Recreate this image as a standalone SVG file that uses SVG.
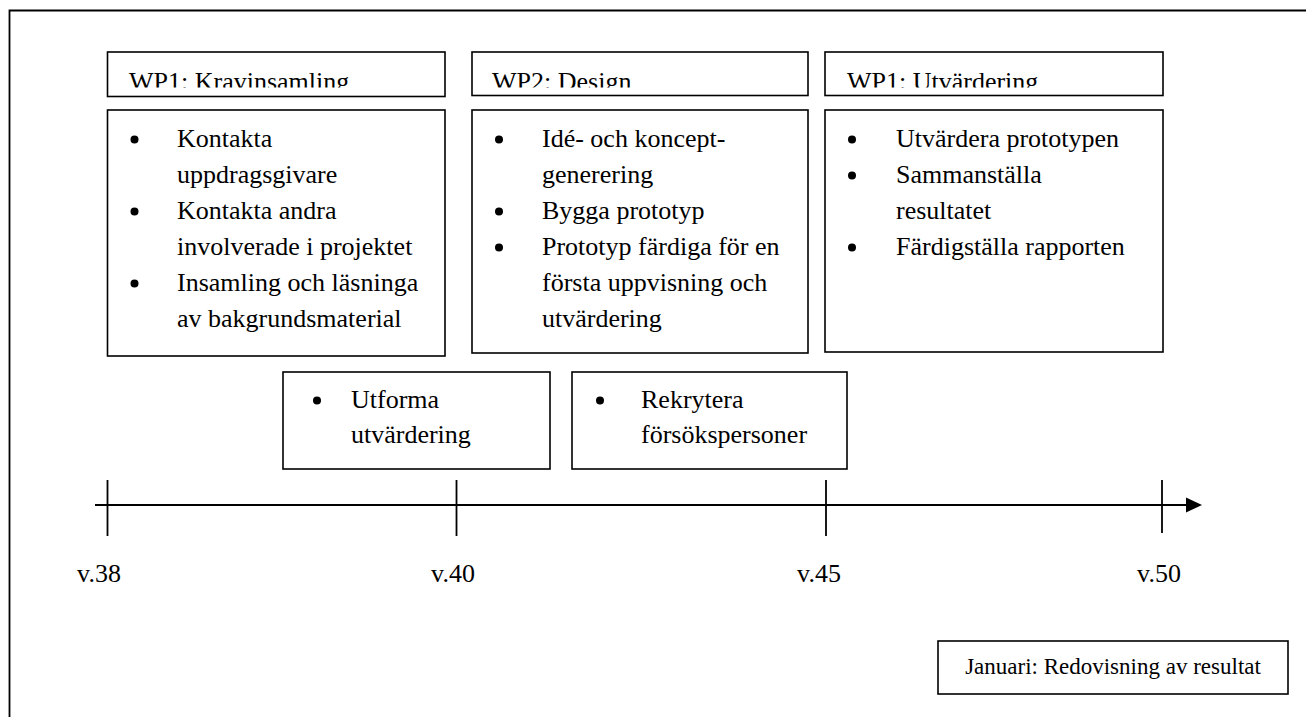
<svg xmlns="http://www.w3.org/2000/svg" width="1306" height="717" viewBox="0 0 1306 717">
<style>
.box{fill:#fff;stroke:#000;stroke-width:1.6}
.t{font-family:'Liberation Serif','Times New Roman',serif;font-size:26px;fill:#000}
.s{font-family:'Liberation Serif','Times New Roman',serif;font-size:23px;fill:#000}
.ln{stroke:#000;stroke-width:1.8;fill:none}
</style>
<defs>
<clipPath id="hc"><rect x="0" y="52" width="1306" height="35.5"/></clipPath>
</defs>
<rect width="1306" height="717" fill="#fff"/>
<path class="ln" d="M9.5,717 V10.5 H1306"/>

<g id="wp1-header">
<rect class="box" x="107.5" y="52" width="337.5" height="44.5"/>
<text class="t" x="129" y="90" clip-path="url(#hc)">WP1: Kravinsamling</text>
</g>
<g id="wp2-header">
<rect class="box" x="472" y="52" width="336" height="43.5"/>
<text class="t" x="492" y="90" clip-path="url(#hc)">WP2: Design</text>
</g>
<g id="wp3-header">
<rect class="box" x="825" y="52" width="338" height="43.5"/>
<text class="t" x="847" y="90" clip-path="url(#hc)">WP1: Utvärdering</text>
</g>

<g id="wp1-tasks">
<rect class="box" x="107.5" y="110" width="337.5" height="246"/>
<circle cx="134.5" cy="139.5" r="4"/>
<circle cx="134.5" cy="211.5" r="4"/>
<circle cx="134.5" cy="283.5" r="4"/>
<text class="t" x="177" y="147">Kontakta</text>
<text class="t" x="177" y="183">uppdragsgivare</text>
<text class="t" x="177" y="219">Kontakta andra</text>
<text class="t" x="177" y="255">involverade i projektet</text>
<text class="t" x="177" y="291">Insamling och läsninga</text>
<text class="t" x="177" y="327">av bakgrundsmaterial</text>
</g>

<g id="wp2-tasks">
<rect class="box" x="472" y="110" width="336" height="243"/>
<circle cx="499" cy="139.5" r="4"/>
<circle cx="499" cy="211.5" r="4"/>
<circle cx="499" cy="247.5" r="4"/>
<text class="t" x="542" y="147">Idé- och koncept-</text>
<text class="t" x="542" y="183">generering</text>
<text class="t" x="542" y="219">Bygga prototyp</text>
<text class="t" x="542" y="255">Prototyp färdiga för en</text>
<text class="t" x="542" y="291">första uppvisning och</text>
<text class="t" x="542" y="327">utvärdering</text>
</g>

<g id="wp3-tasks">
<rect class="box" x="825" y="110" width="338" height="242"/>
<circle cx="852" cy="139.5" r="4"/>
<circle cx="852" cy="175.5" r="4"/>
<circle cx="852" cy="247.5" r="4"/>
<text class="t" x="896" y="147">Utvärdera prototypen</text>
<text class="t" x="896" y="183">Sammanställa</text>
<text class="t" x="896" y="219">resultatet</text>
<text class="t" x="896" y="255">Färdigställa rapporten</text>
</g>

<g id="utforma">
<rect class="box" x="283" y="372" width="267" height="97"/>
<circle cx="317" cy="400.5" r="4"/>
<text class="t" x="351" y="408">Utforma</text>
<text class="t" x="351" y="443">utvärdering</text>
</g>

<g id="rekrytera">
<rect class="box" x="572" y="372" width="275" height="97"/>
<circle cx="600" cy="400.5" r="4"/>
<text class="t" x="641" y="408">Rekrytera</text>
<text class="t" x="641" y="443">försökspersoner</text>
</g>

<g id="connectors">
<line class="ln" x1="95" y1="505" x2="1190" y2="505"/>
<polygon points="1186,497.5 1202,505 1186,512.5" fill="#000"/>
<line class="ln" x1="107.5" y1="480" x2="107.5" y2="536"/>
<line class="ln" x1="456.5" y1="480" x2="456.5" y2="536"/>
<line class="ln" x1="826" y1="480" x2="826" y2="536"/>
<line class="ln" x1="1162" y1="480" x2="1162" y2="533"/>
</g>

<g id="labels">
<text class="t" x="99" y="582" text-anchor="middle">v.38</text>
<text class="t" x="453" y="582" text-anchor="middle">v.40</text>
<text class="t" x="819" y="582" text-anchor="middle">v.45</text>
<text class="t" x="1159" y="582" text-anchor="middle">v.50</text>
</g>

<g id="januari">
<rect class="box" x="938" y="641" width="350" height="53"/>
<text class="s" x="1113" y="674" text-anchor="middle">Januari: Redovisning av resultat</text>
</g>
</svg>
